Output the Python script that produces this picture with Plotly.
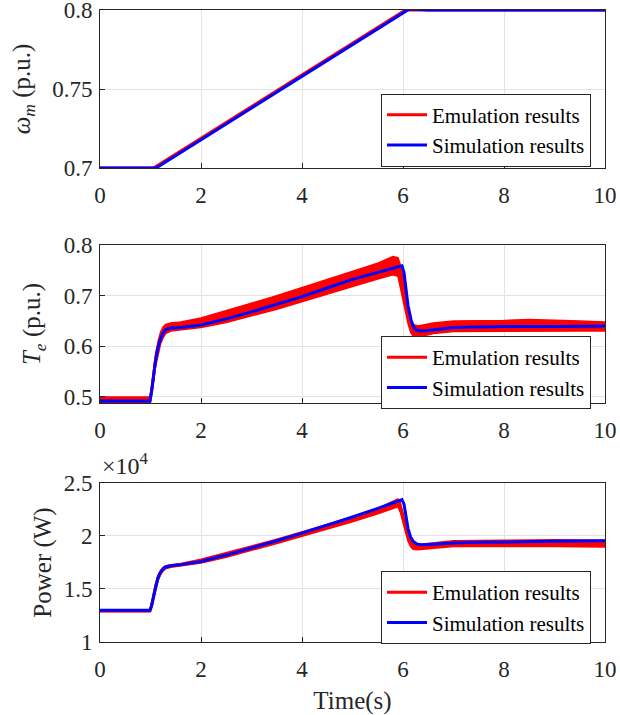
import plotly.graph_objects as go

# ---------------- data ----------------
# Panel 1: rotor speed (p.u.)
w_t_emu = [0, 1.05, 1.10, 6.00, 6.05, 6.2, 10]
w_emu = [0.700, 0.700, 0.7008, 0.7994, 0.8, 0.8, 0.8]
w_t_sim = [0, 1.10, 1.16, 6.05, 6.12, 6.25, 6.5, 10]
w_sim = [0.700, 0.700, 0.7010, 0.7993, 0.8005, 0.8004, 0.8, 0.8]

# Panel 2: electromagnetic torque (p.u.)
te_t_emu = [0, 0.99, 1.02, 1.06, 1.10, 1.15, 1.20, 1.25, 1.30, 1.40, 1.60, 2.0, 2.5, 3.0, 3.5,
            4.0, 4.5, 5.0, 5.5, 5.8, 5.9, 5.95, 6.0, 6.05, 6.1, 6.15, 6.2, 6.3, 6.4, 6.6,
            7.0, 7.5, 8.0, 8.5, 9.0, 9.5, 10]
te_emu_low = [0.487, 0.487, 0.500, 0.530, 0.560, 0.585, 0.605, 0.617, 0.625, 0.630, 0.632, 0.637,
              0.647, 0.660, 0.673, 0.688, 0.703, 0.718, 0.733, 0.741, 0.738, 0.720, 0.695, 0.670,
              0.645, 0.628, 0.620, 0.618, 0.621, 0.625, 0.629, 0.630, 0.630, 0.630, 0.630, 0.630, 0.630]
te_emu_up = [0.500, 0.500, 0.520, 0.555, 0.585, 0.610, 0.628, 0.638, 0.643, 0.646, 0.648, 0.656,
             0.670, 0.685, 0.700, 0.716, 0.732, 0.748, 0.764, 0.777, 0.775, 0.760, 0.735, 0.700,
             0.675, 0.655, 0.643, 0.640, 0.642, 0.646, 0.650, 0.650, 0.651, 0.653, 0.652, 0.650, 0.648]
te_t_sim = [0, 0.99, 1.02, 1.06, 1.10, 1.15, 1.20, 1.25, 1.30, 1.40, 1.60, 2.0, 2.5, 3.0, 3.5,
            4.0, 4.5, 5.0, 5.5, 5.8, 5.98, 6.02, 6.06, 6.10, 6.16, 6.20, 6.26, 6.36, 6.5, 6.8,
            7.0, 7.5, 8.0, 9.0, 10]
te_sim = [0.492, 0.492, 0.510, 0.540, 0.572, 0.598, 0.615, 0.626, 0.633, 0.636, 0.637, 0.642,
          0.654, 0.668, 0.683, 0.698, 0.715, 0.732, 0.746, 0.754, 0.759, 0.745, 0.711, 0.680,
          0.652, 0.640, 0.632, 0.630, 0.631, 0.635, 0.637, 0.638, 0.639, 0.639, 0.640]

# Panel 3: power (W)
p_t_emu = [0, 0.99, 1.02, 1.06, 1.10, 1.15, 1.20, 1.25, 1.30, 1.40, 1.60, 2.0, 2.5, 3.0, 3.5,
           4.0, 4.5, 5.0, 5.5, 5.8, 5.9, 5.95, 6.0, 6.05, 6.1, 6.15, 6.2, 6.3, 6.5, 7.0, 8.0, 9.0, 10]
p_emu_low = [12850, 12850, 13200, 14100, 15000, 15800, 16350, 16700, 16900, 17050, 17150, 17450,
             18000, 18650, 19300, 19950, 20650, 21350, 22100, 22600, 22750, 22200, 21300, 20300,
             19500, 19000, 18750, 18700, 18800, 19000, 19000, 19000, 18950]
p_emu_up = [13050, 13050, 13600, 14600, 15500, 16300, 16750, 17050, 17200, 17300, 17400, 17800,
            18400, 19050, 19700, 20400, 21100, 21800, 22600, 23300, 23500, 23100, 22200, 21200,
            20300, 19700, 19350, 19200, 19300, 19550, 19600, 19650, 19600]
p_t_sim = [0, 0.99, 1.02, 1.06, 1.10, 1.15, 1.20, 1.25, 1.30, 1.40, 1.60, 2.0, 2.5, 3.0, 3.5,
           4.0, 4.5, 5.0, 5.5, 5.8, 5.98, 6.02, 6.06, 6.10, 6.15, 6.20, 6.27, 6.35, 6.5, 7.0,
           7.5, 8.0, 9.0, 10]
p_sim = [13000, 13000, 13400, 14300, 15300, 16100, 16600, 16900, 17080, 17200, 17300, 17600,
         18200, 18860, 19550, 20270, 21000, 21790, 22600, 23100, 23420, 23000, 21800, 20700,
         19900, 19500, 19250, 19180, 19200, 19350, 19400, 19450, 19500, 19550]

x_ticks = [0, 2, 4, 6, 8, 10]
p_tickvals = [10000, 15000, 20000, 25000]
p_ticktext = ["1", "1.5", "2", "2.5"]

# ---------------- style ----------------
FONT = "Liberation Serif"
RED = "#ff0000"
BLUE = "#0000ff"
AX = "#262626"
GRID = "#e3e3e3"

fig = go.Figure()


def band(t, low, up, xa, ya):
    fig.add_trace(go.Scatter(
        x=list(t) + list(t)[::-1], y=list(up) + list(low)[::-1],
        fill="toself", fillcolor=RED, mode="lines",
        line=dict(color=RED, width=1.5), showlegend=False, hoverinfo="skip",
        xaxis=xa, yaxis=ya))


def line(t, v, color, name, xa, ya, leg):
    fig.add_trace(go.Scatter(x=t, y=v, mode="lines", name=name,
                             line=dict(color=color, width=3),
                             xaxis=xa, yaxis=ya, legend=leg))


# panel 1
line(w_t_emu, w_emu, RED, "Emulation results", "x", "y", "legend")
line(w_t_sim, w_sim, BLUE, "Simulation results", "x", "y", "legend")

# panel 2
band(te_t_emu, te_emu_low, te_emu_up, "x2", "y2")
line(te_t_emu, [(a + b) / 2 for a, b in zip(te_emu_low, te_emu_up)], RED,
     "Emulation results", "x2", "y2", "legend2")
line(te_t_sim, te_sim, BLUE, "Simulation results", "x2", "y2", "legend2")

# panel 3
band(p_t_emu, p_emu_low, p_emu_up, "x3", "y3")
line(p_t_emu, [(a + b) / 2 for a, b in zip(p_emu_low, p_emu_up)], RED,
     "Emulation results", "x3", "y3", "legend3")
line(p_t_sim, p_sim, BLUE, "Simulation results", "x3", "y3", "legend3")

tickfont = dict(family=FONT, size=23, color=AX)
titlefont = dict(family=FONT, size=25, color=AX)


def xax(anchor, title=None):
    d = dict(range=[0, 10], tickvals=x_ticks, domain=[0, 1], anchor=anchor,
             showline=True, mirror=True, linecolor=AX, linewidth=1,
             ticks="inside", ticklen=5, tickcolor=AX, showgrid=True, gridcolor=GRID,
             zeroline=False, tickfont=tickfont, ticklabelstandoff=6, automargin=False,
             ticklabeloverflow="allow")
    if title:
        d["title"] = dict(text=title, font=titlefont)
    return d


def yax(anchor, domain, rng, title, standoff, **kw):
    d = dict(range=rng, domain=domain, anchor=anchor,
             showline=True, mirror=True, linecolor=AX, linewidth=1,
             ticks="inside", ticklen=5, tickcolor=AX, showgrid=True, gridcolor=GRID,
             zeroline=False, tickfont=tickfont, ticklabelstandoff=2,
             ticklabeloverflow="allow",
             title=dict(text=title, font=titlefont, standoff=standoff), automargin="left")
    d.update(kw)
    return d


legstyle = dict(bgcolor="white", bordercolor=AX, borderwidth=1,
                font=dict(family=FONT, size=21, color="black"),
                xanchor="right", yanchor="middle", x=0.9723, itemwidth=40,
                tracegroupgap=0)

fig.update_layout(
    width=620, height=715,
    margin=dict(l=100, r=15, t=10, b=73),
    paper_bgcolor="white", plot_bgcolor="white",
    font=dict(family=FONT, color=AX),
    xaxis=xax("y"),
    xaxis2=xax("y2"),
    xaxis3=xax("y3", "Time(s)"),
    yaxis=yax("x", [0.75, 1.0], [0.7, 0.8], "<i>ω</i><sub><i>m</i></sub> (p.u.)", 14,
              tickvals=[0.7, 0.75, 0.8]),
    yaxis2=yax("x2", [0.3782, 0.6282], [0.488, 0.8], "<i>T</i><sub><i>e</i></sub> (p.u.)", 15,
               tickvals=[0.5, 0.6, 0.7, 0.8]),
    yaxis3=yax("x3", [0.0, 0.2516], [10000, 25000], "Power (W)", 4,
               tickvals=p_tickvals, ticktext=p_ticktext),
    legend=dict(legstyle, y=0.8101),
    legend2=dict(legstyle, y=0.4264),
    legend3=dict(legstyle, y=0.0546),
    annotations=[dict(text="×10<sup>4</sup>", xref="paper", yref="paper",
                      x=0.0, y=0.2547, xanchor="left", yanchor="bottom",
                      showarrow=False, font=dict(family=FONT, size=24, color=AX))],
    showlegend=True,
)

fig.write_html("out.html", config={"displayModeBar": False},
               post_script="document.body.style.margin='0px';")
